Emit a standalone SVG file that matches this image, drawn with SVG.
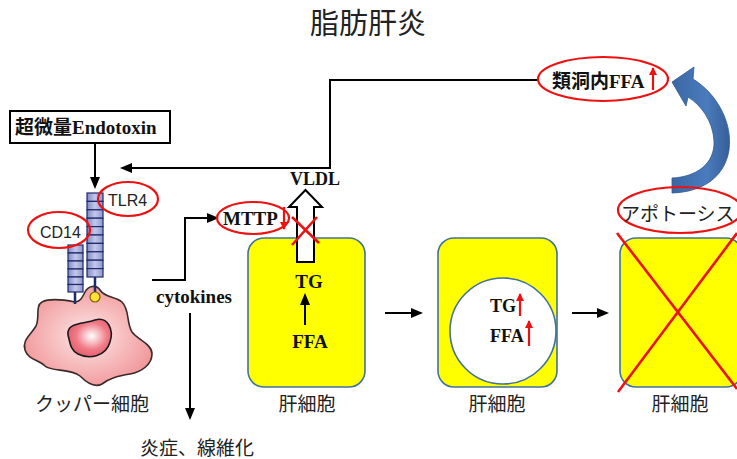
<svg xmlns="http://www.w3.org/2000/svg" width="737" height="459" viewBox="0 0 737 459">
  <style>
    .bg { fill: #ffffff; }
    .serifb { font-family: "Liberation Serif", "Noto Sans CJK JP", serif; font-weight: bold; fill: #111; }
    .jp { font-family: "Noto Sans CJK JP", "Noto Sans", sans-serif; fill: #222; }
    .sans { font-family: "Liberation Sans", Arial, sans-serif; fill: #222; }
    .line { fill: none; stroke: #000; stroke-width: 2; }
    .redring { fill: none; stroke: #ee1111; stroke-width: 2.2; }
    .redline { stroke: #ee1111; stroke-width: 2.6; fill: none; }
    .redarrow { stroke: #ee1111; stroke-width: 2.2; fill: none; }
    .cell { fill: #ffff00; stroke: #41719c; stroke-width: 1.6; }
    .seg { fill: url(#segGrad); stroke: #1f2a6b; stroke-width: 1.2; }
    .stem { stroke: #1f2a6b; stroke-width: 2.5; }
  </style>
  <defs>
    <marker id="ah" markerWidth="12" markerHeight="10" refX="10" refY="5" orient="auto" markerUnits="userSpaceOnUse">
      <path d="M0,0 L12,5 L0,10 Z" fill="#000"/>
    </marker>
    <marker id="ahRed" markerWidth="8" markerHeight="8" refX="7" refY="4" orient="auto" markerUnits="userSpaceOnUse">
      <path d="M0,0 L8,4 L0,8 Z" fill="#ee1111"/>
    </marker>
    <linearGradient id="segGrad" x1="0" y1="0" x2="1" y2="0">
      <stop offset="0" stop-color="#7f89c4"/>
      <stop offset="0.5" stop-color="#c3c8ea"/>
      <stop offset="1" stop-color="#8f98cf"/>
    </linearGradient>
    <radialGradient id="blobGrad" cx="0.5" cy="0.5" r="0.6">
      <stop offset="0" stop-color="#fde8e8"/>
      <stop offset="1" stop-color="#f08f92"/>
    </radialGradient>
    <radialGradient id="nucGrad" cx="0.55" cy="0.45" r="0.6">
      <stop offset="0" stop-color="#ffffff"/>
      <stop offset="0.6" stop-color="#f07a86"/>
      <stop offset="1" stop-color="#e35a6a"/>
    </radialGradient>
    <linearGradient id="blueGrad" x1="0" y1="0" x2="1" y2="0">
      <stop offset="0" stop-color="#3b67a3"/>
      <stop offset="0.6" stop-color="#4a7bbd"/>
      <stop offset="1" stop-color="#365f98"/>
    </linearGradient>
  </defs>

  <rect class="bg" x="0" y="0" width="737" height="459"/>

  <!-- title -->
  <text id="title" class="jp" x="368" y="34" font-size="29" text-anchor="middle">脂肪肝炎</text>

  <!-- connectors -->
  <g id="connectors">
    <!-- endotoxin to TLR4 -->
    <line class="line" x1="95" y1="143" x2="95" y2="187" marker-end="url(#ah)"/>
    <!-- sinusoidal FFA feedback to the receptor -->
    <polyline class="line" points="538,80 330,80 330,168 122,168" marker-end="url(#ah)"/>
    <!-- cytokines to MTTP -->
    <polyline class="line" points="152,280 185,280 185,218 217,218" marker-end="url(#ah)"/>
    <!-- cytokines to inflammation -->
    <line class="line" x1="190" y1="313" x2="190" y2="418" marker-end="url(#ah)"/>
    <!-- cell progression -->
    <line class="line" x1="385" y1="313" x2="421" y2="313" marker-end="url(#ah)"/>
    <line class="line" x1="572" y1="313" x2="607" y2="313" marker-end="url(#ah)"/>
    <!-- curved block arrow from apoptosis back to sinusoidal FFA -->
    <path d="M672,82 L694,67 L693,79 C716,93 733,122 729,150 C725,176 704,192 672,193 L672,178 C696,177 715,164 714,141 C713,121 701,105 688,97 L686,106 Z" fill="url(#blueGrad)" stroke="#2f5a92" stroke-width="0.8"/>
  </g>

  <!-- endotoxin box -->
  <g id="endotoxin">
    <rect x="10" y="111" width="160" height="32" fill="#fff" stroke="#000" stroke-width="2"/>
    <text class="serifb" x="15" y="134" font-size="19">超微量Endotoxin</text>
  </g>

  <!-- Kupffer cell with receptors -->
  <g id="kupffer">
    <path d="M75,302 C65,300 50,298 42,302 C35,306 40,318 36,326 C30,336 22,340 25,350 C28,360 40,360 45,366 C52,372 70,368 80,376 C88,384 95,388 102,384 C110,378 118,376 130,374 C142,372 152,364 152,354 C152,344 138,340 132,332 C126,322 130,310 122,302 C115,296 105,298 100,290 C96,284 88,286 85,292 C82,298 80,302 75,302 Z" fill="url(#blobGrad)" stroke="#3a2a2a" stroke-width="1.6"/>
    <path d="M68,335 C66,322 85,324 95,320 C108,316 114,330 110,342 C106,356 90,360 78,354 C70,350 70,342 68,335 Z" fill="url(#nucGrad)" stroke="#1a1a1a" stroke-width="1.6"/>
    <!-- stems -->
    <line class="stem" x1="75" y1="292" x2="75" y2="304"/>
    <line class="stem" x1="95" y1="277" x2="95" y2="293"/>
    <circle cx="95" cy="297" r="5" fill="#ffe033" stroke="#7a6400" stroke-width="1.2"/>
    <!-- TLR4 column -->
    <g id="tlr4-column">
      <rect class="seg" x="87" y="193" width="16" height="8.4"/>
      <rect class="seg" x="87" y="201.4" width="16" height="8.4"/>
      <rect class="seg" x="87" y="209.8" width="16" height="8.4"/>
      <rect class="seg" x="87" y="218.2" width="16" height="8.4"/>
      <rect class="seg" x="87" y="226.6" width="16" height="8.4"/>
      <rect class="seg" x="87" y="235" width="16" height="8.4"/>
      <rect class="seg" x="87" y="243.4" width="16" height="8.4"/>
      <rect class="seg" x="87" y="251.8" width="16" height="8.4"/>
      <rect class="seg" x="87" y="260.2" width="16" height="8.4"/>
      <rect class="seg" x="87" y="268.6" width="16" height="8.4"/>
    </g>
    <!-- CD14 column -->
    <g id="cd14-column">
      <rect class="seg" x="68" y="245" width="15" height="8"/>
      <rect class="seg" x="68" y="253" width="15" height="8"/>
      <rect class="seg" x="68" y="261" width="15" height="8"/>
      <rect class="seg" x="68" y="269" width="15" height="8"/>
      <rect class="seg" x="68" y="277" width="15" height="7.5"/>
      <rect class="seg" x="68" y="284.5" width="15" height="7.5"/>
    </g>
    <text class="jp" x="35" y="411" font-size="19">クッパー細胞</text>
  </g>

  <g id="tlr4-label">
    <ellipse class="redring" cx="128" cy="199" rx="30" ry="17"/>
    <text class="sans" x="108" y="206" font-size="16">TLR4</text>
  </g>

  <g id="cd14-label">
    <ellipse class="redring" cx="59" cy="230" rx="31" ry="18"/>
    <text class="sans" x="40" y="238" font-size="16">CD14</text>
  </g>

  <g id="cytokines">
    <text class="serifb" x="156" y="303" font-size="19">cytokines</text>
  </g>

  <g id="inflammation">
    <text class="jp" x="140" y="455" font-size="19">炎症、線維化</text>
  </g>

  <g id="mttp">
    <ellipse class="redring" cx="253" cy="218" rx="36" ry="16"/>
    <text class="serifb" x="223" y="225" font-size="19">MTTP</text>
    <line class="redarrow" x1="284" y1="207" x2="284" y2="229" marker-end="url(#ahRed)"/>
  </g>

  <!-- hepatocyte 1: normal -->
  <g id="hepatocyte1">
    <rect class="cell" x="248" y="238" width="117" height="149" rx="16"/>
    <text class="serifb" x="309" y="288" font-size="19" text-anchor="middle">TG</text>
    <line class="line" x1="305" y1="325" x2="305" y2="295" marker-end="url(#ah)"/>
    <text class="serifb" x="310" y="348" font-size="19" text-anchor="middle">FFA</text>
    <text class="jp" x="307" y="411" font-size="19" text-anchor="middle">肝細胞</text>
  </g>

  <!-- VLDL export (blocked) -->
  <g id="vldl">
    <path d="M297,262 L297,207 L289,207 L305.5,190 L322,207 L314,207 L314,262 Z" fill="#fff" stroke="#000" stroke-width="2"/>
    <text class="serifb" x="315" y="185" font-size="18" text-anchor="middle">VLDL</text>
    <line class="redline" x1="292" y1="217" x2="319" y2="243"/>
    <line class="redline" x1="317" y1="217" x2="292" y2="245"/>
  </g>

  <!-- hepatocyte 2: steatosis -->
  <g id="hepatocyte2">
    <rect class="cell" x="438" y="238" width="119" height="149" rx="16"/>
    <circle cx="503" cy="331" r="53" fill="#fff" stroke="#41719c" stroke-width="1.6"/>
    <text class="serifb" x="490" y="312" font-size="18">TG</text>
    <line class="redarrow" x1="520" y1="316" x2="520" y2="294" marker-end="url(#ahRed)"/>
    <text class="serifb" x="490" y="342" font-size="18">FFA</text>
    <line class="redarrow" x1="529" y1="346" x2="529" y2="321" marker-end="url(#ahRed)"/>
    <text class="jp" x="497" y="411" font-size="19" text-anchor="middle">肝細胞</text>
  </g>

  <!-- hepatocyte 3: apoptosis -->
  <g id="hepatocyte3">
    <rect class="cell" x="620" y="238" width="122" height="149" rx="16"/>
    <line class="redline" x1="617" y1="233" x2="737" y2="389"/>
    <line class="redline" x1="737" y1="233" x2="618" y2="392"/>
    <text class="jp" x="680" y="411" font-size="19" text-anchor="middle">肝細胞</text>
  </g>

  <g id="apoptosis">
    <ellipse class="redring" cx="680" cy="210" rx="62" ry="23"/>
    <text class="jp" x="621" y="221" font-size="19">アポトーシス</text>
  </g>

  <g id="sinusoid-ffa">
    <ellipse class="redring" cx="603" cy="79" rx="65" ry="22"/>
    <text class="serifb" x="552" y="88" font-size="19">類洞内FFA</text>
    <line class="redarrow" x1="653" y1="90" x2="653" y2="68" marker-end="url(#ahRed)"/>
  </g>
</svg>
